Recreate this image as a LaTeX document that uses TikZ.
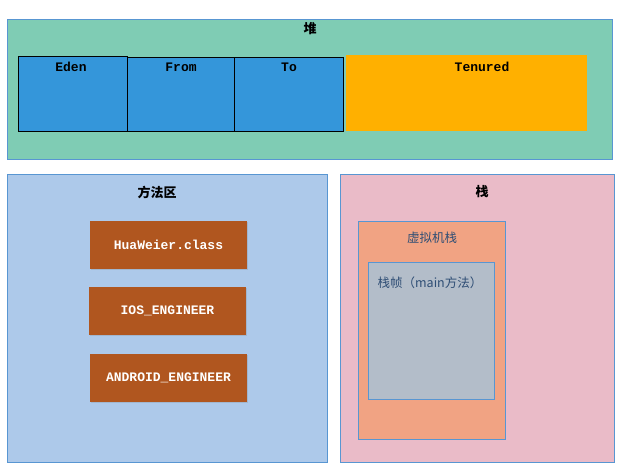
\documentclass[tikz,border=0pt]{standalone}
\usepackage{fontspec}
\setmainfont{Liberation Serif}
\newfontfamily\cjkfont{Noto Sans CJK SC}
\newfontfamily\monofont{Liberation Mono}
\usetikzlibrary{shadows}
\definecolor{heapfill}{RGB}{127,204,180}
\definecolor{edgeblue}{RGB}{88,150,210}
\definecolor{edenblue}{RGB}{52,150,218}
\definecolor{tenured}{RGB}{255,176,0}
\definecolor{methodfill}{RGB}{173,201,234}
\definecolor{stackfill}{RGB}{234,187,200}
\definecolor{brownbox}{RGB}{176,86,31}
\definecolor{vmfill}{RGB}{241,163,131}
\definecolor{framefill}{RGB}{179,189,201}
\definecolor{cjktext}{RGB}{47,78,117}
\tikzset{
  area/.style={draw=edgeblue, line width=0.8pt, inner sep=0pt, anchor=center},
  genbox/.style={draw=black, fill=edenblue, line width=0.9pt, inner sep=0pt},
  classbox/.style={fill=brownbox, inner sep=0pt, minimum width=157pt, minimum height=48pt,
    text=white, font=\monofont\bfseries\fontsize{13}{15}\selectfont,
    drop shadow={shadow xshift=1pt, shadow yshift=-1.2pt, opacity=0.25}},
  monolabel/.style={font=\monofont\bfseries\fontsize{13}{15}\selectfont, text=black, inner sep=0pt, anchor=base},
  cjktitle/.style={font=\cjkfont\bfseries\fontsize{13}{15}\selectfont, text=black, inner sep=0pt},
  cjklabel/.style={font=\cjkfont\fontsize{12.5}{15}\selectfont, text=cjktext, inner sep=0pt},
}
\begin{document}
\begin{tikzpicture}[x=1pt,y=-1pt]
\useasboundingbox (0,0) rectangle (631,474);
% heap
\node[area, fill=heapfill, minimum width=605pt, minimum height=140pt] (heap) at (309.5,89) {};
\node[cjktitle] (heapt) at (310,28.5) {堆};
\node[genbox, minimum width=109pt, minimum height=75pt] (eden) at (72.5,93.5) {};
\node[genbox, minimum width=107pt, minimum height=74pt] (from) at (180.5,94) {};
\node[genbox, minimum width=109pt, minimum height=74pt] (to) at (288.5,94) {};
\node[fill=tenured, inner sep=0pt, minimum width=241pt, minimum height=76pt] (ten) at (466.5,93) {};
\node[monolabel] (edent) at (71,71.5) {Eden};
\node[monolabel] (fromt) at (181,71.5) {From};
\node[monolabel] (tot) at (289,71.5) {To};
\node[monolabel] (tent) at (482,71.5) {Tenured};
% method area
\node[area, fill=methodfill, minimum width=320pt, minimum height=288pt] (method) at (167,318) {};
\node[cjktitle] (methodt) at (157,192) {方法区};
\node[classbox] (hua) at (168.5,245) {HuaWeier.class};
\node[classbox] (ios) at (167.5,311) {IOS\_ENGINEER};
\node[classbox] (android) at (168.5,378) {ANDROID\_ENGINEER};
% stack
\node[area, fill=stackfill, minimum width=274pt, minimum height=288pt] (stack) at (477,318) {};
\node[cjktitle] (stackt) at (482,192) {栈};
\node[area, fill=vmfill, minimum width=147pt, minimum height=218pt] (vm) at (431.5,330) {};
\node[cjklabel] (vmt) at (432,238) {虚拟机栈};
\node[area, fill=framefill, minimum width=126pt, minimum height=137pt] (frame) at (431,330.5) {};
\node[cjklabel] (framet) at (430,283) {栈帧（main方法）};
\end{tikzpicture}
\end{document}
